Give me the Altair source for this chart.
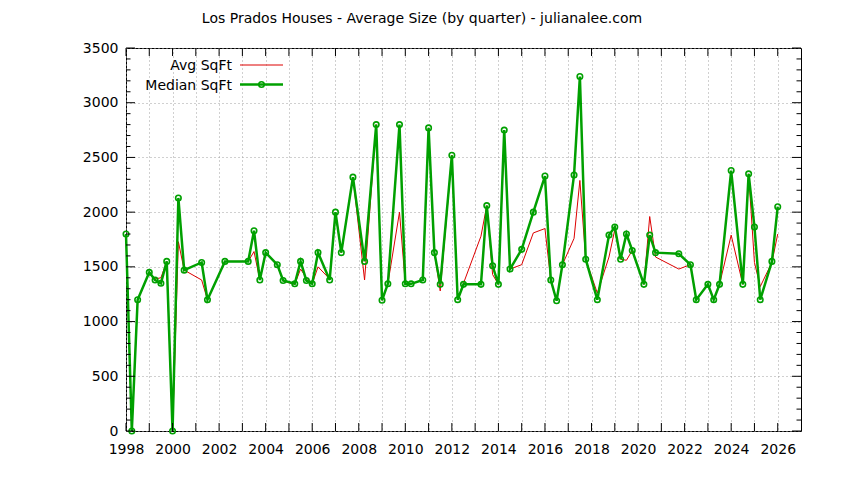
import altair as alt
import pandas as pd

# ---- data ----
quarters = [1998.0, 1998.25, 1998.5, 1999.0, 1999.25, 1999.5, 1999.75, 2000.0, 2000.25, 2000.5,
            2001.25, 2001.5, 2002.25, 2003.25, 2003.5, 2003.75, 2004.0, 2004.5, 2004.75, 2005.25,
            2005.5, 2005.75, 2006.0, 2006.25, 2006.75, 2007.0, 2007.25, 2007.75, 2008.25, 2008.75,
            2009.0, 2009.25, 2009.75, 2010.0, 2010.25, 2010.75, 2011.0, 2011.25, 2011.5, 2012.0,
            2012.25, 2012.5, 2013.25, 2013.5, 2013.75, 2014.0, 2014.25, 2014.5, 2015.0, 2015.5,
            2016.0, 2016.25, 2016.5, 2016.75, 2017.25, 2017.5, 2017.75, 2018.25, 2018.75, 2019.0,
            2019.25, 2019.5, 2019.75, 2020.25, 2020.5, 2020.75, 2021.75, 2022.25, 2022.5, 2023.0,
            2023.25, 2023.5, 2024.0, 2024.5, 2024.75, 2025.0, 2025.25, 2025.75, 2026.0]

median_sqft = [1800, 0, 1200, 1450, 1380, 1350, 1550, 0, 2130, 1470,
               1540, 1200, 1550, 1550, 1830, 1380, 1630, 1520, 1375, 1345,
               1550, 1375, 1345, 1630, 1380, 2000, 1630, 2320, 1550, 2800,
               1195, 1345, 2800, 1345, 1345, 1380, 2770, 1630, 1340, 2520,
               1200, 1340, 1340, 2060, 1510, 1340, 2750, 1480, 1660, 2000,
               2330, 1380, 1190, 1520, 2340, 3240, 1570, 1200, 1790, 1865,
               1570, 1800, 1650, 1340, 1790, 1630, 1620, 1520, 1200, 1340,
               1200, 1340, 2380, 1340, 2350, 1865, 1200, 1550, 2050]

avg_sqft = [1800, 0, 1200, 1450, 1390, 1400, 1550, 0, 1730, 1470,
            1380, 1200, 1550, 1550, 1640, 1380, 1630, 1520, 1370, 1340,
            1480, 1400, 1345, 1500, 1390, 2000, 1630, 2320, 1380, 2800,
            1195, 1345, 2000, 1345, 1345, 1380, 2770, 1630, 1280, 2520,
            1200, 1350, 1780, 2060, 1430, 1340, 2700, 1480, 1520, 1810,
            1850, 1380, 1190, 1520, 1760, 2290, 1570, 1260, 1590, 1840,
            1570, 1560, 1650, 1340, 1960, 1590, 1480, 1520, 1200, 1340,
            1200, 1340, 1790, 1340, 2350, 1540, 1320, 1540, 1800]

year_ticks = list(range(1998, 2027))
y_major = [0, 500, 1000, 1500, 2000, 2500, 3000, 3500]
y_minor = [v for v in range(0, 3501, 100) if v % 500 != 0]

TITLE = "Los Prados Houses - Average Size (by quarter) - julianalee.com"
FONT = "DejaVu Sans"
FS = 14
RED = "#dd0000"
GREEN = "#00a000"
W, H = 675, 383

df = pd.DataFrame({"quarter": quarters, "avg": avg_sqft, "median": median_sqft})

xs = alt.Scale(domain=[1998, 2027], nice=False, zero=False)
ys = alt.Scale(domain=[0, 3500], nice=False, zero=False)

x_axis = alt.Axis(values=year_ticks,
                  labelExpr="datum.value % 2 == 0 ? format(datum.value, 'd') : ''",
                  grid=True, gridDash=[1, 3], gridColor="#a0a0a0", gridWidth=1,
                  ticks=False, domain=False, title=None, labelFont=FONT, labelFontSize=FS,
                  labelColor="black", labelPadding=11, labelOverlap=False, labelFlush=False)
y_axis = alt.Axis(values=y_major, grid=True, gridDash=[1, 3], gridColor="#a0a0a0", gridWidth=1,
                  ticks=False, domain=False, title=None, labelFont=FONT, labelFontSize=FS,
                  labelColor="black", labelPadding=8, labelOverlap=False, labelFlush=False,
                  format="d")


def X(field):
    return alt.X(field, type="quantitative", scale=xs, axis=x_axis)


def Y(field):
    return alt.Y(field, type="quantitative", scale=ys, axis=y_axis)


base = alt.Chart(df)

avg_line = base.mark_line(color=RED, strokeWidth=1).encode(x=X("quarter"), y=Y("avg"))
med_line = base.mark_line(color=GREEN, strokeWidth=2.5).encode(x=X("quarter"), y=Y("median"))
med_pts = base.mark_point(shape="circle", filled=False, color=GREEN, size=30,
                          strokeWidth=1.6, opacity=1).encode(x=X("quarter"), y=Y("median"))

# inward ticks (gnuplot style)
xt = alt.Chart(pd.DataFrame({"yr": year_ticks}))
xt_bottom = xt.mark_rule(color="black").encode(x=X("yr"), y=alt.value(H), y2=alt.value(H - 8))
xt_top = xt.mark_rule(color="black").encode(x=X("yr"), y=alt.value(0), y2=alt.value(8))

ymaj = alt.Chart(pd.DataFrame({"v": y_major}))
ymin = alt.Chart(pd.DataFrame({"v": y_minor}))
yt_l = ymaj.mark_rule(color="black").encode(y=Y("v"), x=alt.value(0), x2=alt.value(9))
yt_r = ymaj.mark_rule(color="black").encode(y=Y("v"), x=alt.value(W), x2=alt.value(W - 9))
ym_l = ymin.mark_rule(color="black").encode(y=Y("v"), x=alt.value(0), x2=alt.value(4.5))
ym_r = ymin.mark_rule(color="black").encode(y=Y("v"), x=alt.value(W), x2=alt.value(W - 4.5))

# key (gnuplot style: text right-aligned, sample to the right)
one = pd.DataFrame({"a": [0]})
KY1, KY2 = 18, 37.5
key_avg_t = alt.Chart(pd.DataFrame({"t": ["Avg SqFt"]})).mark_text(
    align="right", baseline="middle", font=FONT, fontSize=FS, color="black").encode(
    text="t:N", x=alt.value(106), y=alt.value(KY1))
key_med_t = alt.Chart(pd.DataFrame({"t": ["Median SqFt"]})).mark_text(
    align="right", baseline="middle", font=FONT, fontSize=FS, color="black").encode(
    text="t:N", x=alt.value(106), y=alt.value(KY2))
key_avg_l = alt.Chart(one).mark_rule(color=RED, strokeWidth=1).encode(
    x=alt.value(114), x2=alt.value(157), y=alt.value(KY1 - 1))
key_med_l = alt.Chart(one).mark_rule(color=GREEN, strokeWidth=2.5).encode(
    x=alt.value(114), x2=alt.value(157), y=alt.value(KY2 - 1))
key_med_p = alt.Chart(one).mark_point(shape="circle", filled=False, color=GREEN, size=30,
                                      strokeWidth=1.6, opacity=1).encode(
    x=alt.value(135.5), y=alt.value(KY2 - 1))

chart = alt.layer(
    avg_line, med_line, med_pts,
    xt_bottom, xt_top, yt_l, yt_r, ym_l, ym_r,
    key_avg_t, key_med_t, key_avg_l, key_med_l, key_med_p,
).properties(
    width=W, height=H,
    autosize=alt.AutoSizeParams(type="none"),
    padding={"left": 118, "top": 40, "right": 30, "bottom": 40},
    title=alt.TitleParams(text=TITLE, font=FONT, fontSize=FS, fontWeight="normal",
                          color="black", anchor="middle", dx=-41.5, offset=15),
    background="white",
).configure_view(stroke="black", strokeWidth=1)

chart.save("out.html", embed_options={"renderer": "svg", "actions": False})
